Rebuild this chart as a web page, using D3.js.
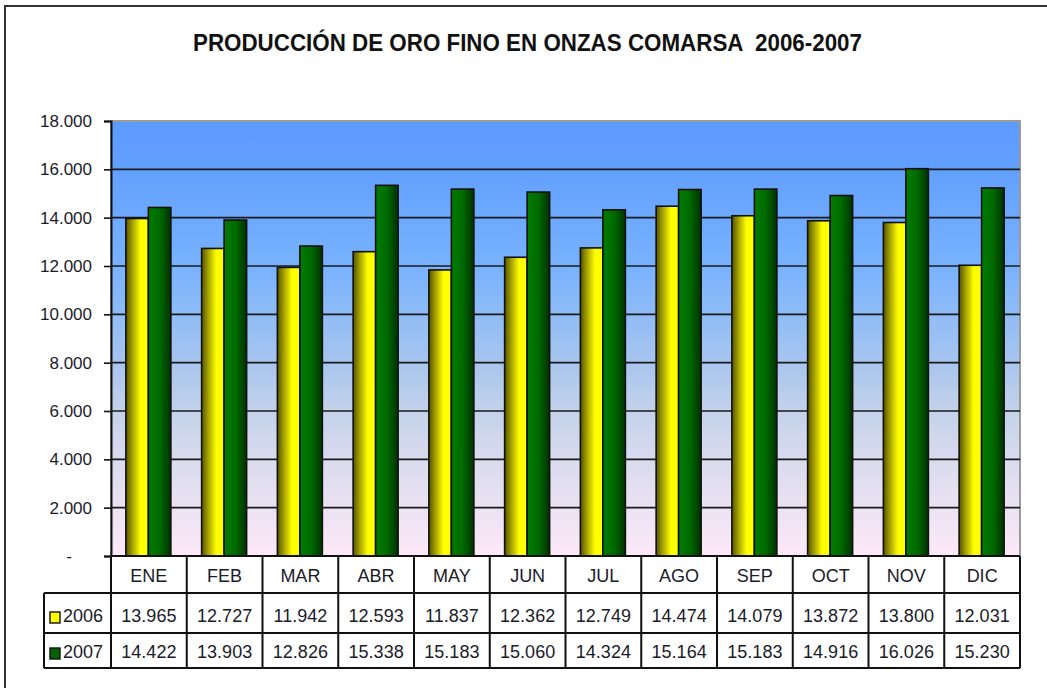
<!DOCTYPE html>
<html>
<head>
<meta charset="utf-8">
<script src="https://cdn.jsdelivr.net/npm/d3@7"></script>
<style>
  html, body { margin: 0; padding: 0; background: #fff; }
  svg { display: block; font-family: "Liberation Sans", Arial, sans-serif; }
</style>
</head>
<body>
<svg id="chart" width="1047" height="688"></svg>
<script>
// datos
const months = ["ENE", "FEB", "MAR", "ABR", "MAY", "JUN", "JUL", "AGO", "SEP", "OCT", "NOV", "DIC"];
const years = ["2006", "2007"];
const values2006 = [13965, 12727, 11942, 12593, 11837, 12362, 12749, 14474, 14079, 13872, 13800, 12031];
const values2007 = [14422, 13903, 12826, 15338, 15183, 15060, 14324, 15164, 15183, 14916, 16026, 15230];
const yTicks = [0, 2000, 4000, 6000, 8000, 10000, 12000, 14000, 16000, 18000];
const titleText = "PRODUCCIÓN DE ORO FINO EN ONZAS COMARSA  2006-2007";

const series = [
    { year: years[0], values: values2006, grad: "g2006", legend: "#ffff00" },
    { year: years[1], values: values2007, grad: "g2007", legend: "#006400" }
];

const locale = d3.formatLocale({ decimal: ",", thousands: ".", grouping: [3], currency: ["", ""] });
const fmt = locale.format(",");

const svg = d3.select("#chart");
const plotLeft = 111, plotRight = 1020, plotTop = 121, plotBottom = 556;
const rowY = [556, 593, 633, 668];
const legendLeft = 44;

const x = d3.scaleBand().domain(months).range([plotLeft, plotRight]);
const bw = x.bandwidth();
const xs = d3.scaleBand().domain(years).range([bw / 2 - 23, bw / 2 + 22]);
const y = d3.scaleLinear().domain([0, 18000]).range([plotBottom, plotTop]);

// gradientes
const defs = svg.append("defs");
const bg = defs.append("linearGradient").attr("id", "bg")
    .attr("x1", 0).attr("y1", 0).attr("x2", 0).attr("y2", 1);
[[0, "#5b9bfe"], [0.111, "#62a0fe"], [0.333, "#78b2fe"], [0.444, "#8fbcf6"],
 [0.556, "#a8c5ee"], [0.667, "#c4d2ea"], [0.778, "#d9dbee"], [0.889, "#ebe2f3"], [1, "#fde9f8"]]
    .forEach(s => bg.append("stop").attr("offset", s[0]).attr("stop-color", s[1]));

const gy = defs.append("linearGradient").attr("id", "g2006");
[[0, "#545200"], [0.3, "#a8a400"], [0.65, "#ffff00"], [1, "#ffff00"]]
    .forEach(s => gy.append("stop").attr("offset", s[0]).attr("stop-color", s[1]));
const gg = defs.append("linearGradient").attr("id", "g2007");
[[0, "#007c00"], [0.5, "#006a00"], [1, "#003000"]]
    .forEach(s => gg.append("stop").attr("offset", s[0]).attr("stop-color", s[1]));

// marco exterior
svg.append("rect")
    .attr("x", 5).attr("y", 6).attr("width", 1060).attr("height", 700)
    .attr("fill", "none").attr("stroke", "#333").attr("stroke-width", 2);

// titulo
svg.append("text")
    .attr("x", 193).attr("y", 51)
    .attr("textLength", 669).attr("lengthAdjust", "spacingAndGlyphs")
    .attr("font-size", 24).attr("font-weight", "bold").attr("fill", "#111")
    .style("white-space", "pre")
    .text(titleText);

// area del grafico
svg.append("rect")
    .attr("x", plotLeft).attr("y", plotTop).attr("width", plotRight - plotLeft).attr("height", plotBottom - plotTop)
    .attr("fill", "url(#bg)").attr("stroke", "#9a9a9a").attr("stroke-width", 2);

// lineas de division
svg.append("g")
    .selectAll("line")
    .data(yTicks.filter(d => d > 0 && d < 18000))
    .join("line")
    .attr("x1", plotLeft).attr("x2", plotRight)
    .attr("y1", d => y(d)).attr("y2", d => y(d))
    .attr("stroke", "#1a1a1a").attr("stroke-width", 1.6);

// eje Y
const yAxis = d3.axisLeft(y).tickValues(yTicks).tickSize(7).tickPadding(12)
    .tickFormat(d => d === 0 ? "-" : fmt(d));
const ya = svg.append("g").attr("transform", `translate(${plotLeft},0)`).call(yAxis);
ya.select(".domain").attr("stroke", "#111").attr("stroke-width", 2);
ya.selectAll(".tick line").attr("stroke", "#111").attr("stroke-width", 1.6);
ya.selectAll(".tick text")
    .attr("font-size", 17).attr("fill", "#1b1b2a")
    .attr("font-family", "Liberation Sans, Arial, sans-serif")
    .attr("dx", d => d === 0 ? -20 : 0);

// barras
const groups = svg.append("g")
    .selectAll("g")
    .data(months)
    .join("g")
    .attr("transform", d => `translate(${x(d)},0)`);

groups.selectAll("rect")
    .data((m, i) => series.map(s => ({ year: s.year, grad: s.grad, value: s.values[i] })))
    .join("rect")
    .attr("x", d => xs(d.year))
    .attr("width", xs.bandwidth())
    .attr("y", d => y(d.value))
    .attr("height", d => plotBottom - y(d.value))
    .attr("fill", d => `url(#${d.grad})`)
    .attr("stroke", "#111").attr("stroke-width", 1.6);

// tabla de datos
const table = svg.append("g");
table.append("rect")
    .attr("x", plotLeft).attr("y", rowY[0]).attr("width", plotRight - plotLeft).attr("height", rowY[3] - rowY[0])
    .attr("fill", "#fff");
table.append("rect")
    .attr("x", legendLeft).attr("y", rowY[1]).attr("width", plotLeft - legendLeft).attr("height", rowY[3] - rowY[1])
    .attr("fill", "#fff");

const lineStyle = sel => sel.attr("stroke", "#111").attr("stroke-width", 2);
table.append("line").attr("x1", plotLeft).attr("x2", plotRight).attr("y1", rowY[0]).attr("y2", rowY[0]).call(lineStyle);
[rowY[1], rowY[2], rowY[3]].forEach(ry =>
    table.append("line").attr("x1", legendLeft).attr("x2", plotRight).attr("y1", ry).attr("y2", ry).call(lineStyle));
table.append("line").attr("x1", legendLeft).attr("x2", legendLeft).attr("y1", rowY[1]).attr("y2", rowY[3]).call(lineStyle);
table.selectAll(".vline")
    .data(months.map(m => x(m)).concat([plotRight]))
    .join("line")
    .attr("x1", d => d).attr("x2", d => d)
    .attr("y1", rowY[0]).attr("y2", rowY[3])
    .call(lineStyle);

table.selectAll(".cat")
    .data(months)
    .join("text")
    .attr("x", d => x(d) + bw / 2).attr("y", rowY[0] + 26)
    .attr("text-anchor", "middle").attr("font-size", 18).attr("fill", "#1b1b2a")
    .text(d => d);

series.forEach((s, si) => {
    const base = rowY[si + 1];
    table.append("rect")
        .attr("x", 50).attr("y", base + 19 - (si ? 4 : 0)).attr("width", 10).attr("height", 11)
        .attr("fill", s.legend).attr("stroke", "#111").attr("stroke-width", 1.4);
    table.append("text")
        .attr("x", 63).attr("y", base + 29 - (si ? 4 : 0))
        .attr("font-size", 18).attr("fill", "#1b1b2a")
        .text(s.year);
    table.selectAll(".v" + s.year)
        .data(s.values)
        .join("text")
        .attr("x", (d, i) => x(months[i]) + bw / 2).attr("y", base + 29 - (si ? 4 : 0))
        .attr("text-anchor", "middle").attr("font-size", 18).attr("fill", "#1b1b2a")
        .text(d => fmt(d));
});
</script>
</body>
</html>
